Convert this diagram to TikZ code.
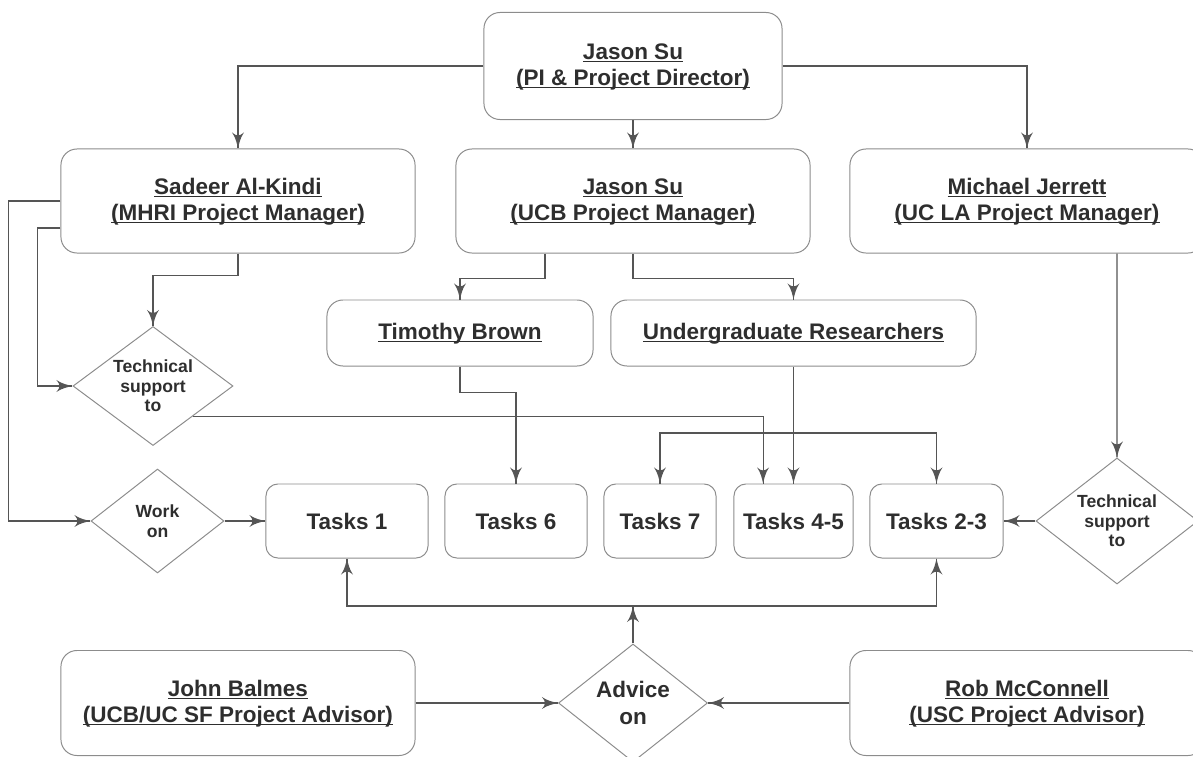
\documentclass[tikz,border=0pt]{standalone}
\usepackage{fontspec}
\usepackage{tikz}
\setmainfont{Liberation Sans}
\usetikzlibrary{arrows}
\usetikzlibrary{decorations.markings}
\usetikzlibrary{shapes.geometric}
\definecolor{boxline}{HTML}{8C8C8C}
\definecolor{connector}{HTML}{555555}
\definecolor{nametext}{HTML}{2E2E2E}
\newcommand{\uname}[1]{\underline{\raisebox{0pt}[\height][0pt]{#1}}}
\tikzset{->/.style = {decoration={markings,
                                  mark=at position 1 with {\arrow[scale=2.2]{latex'}}},
                      postaction={decorate}}}
\tikzset{person/.style = {draw = boxline, line width = 0.7pt, rounded corners = 0.4cm,
                          text = nametext, align = center,
                          font = \bfseries\fontsize{16}{18.5}\selectfont}}
\tikzset{task/.style = {person, rounded corners = 0.3cm, minimum height = 1.85cm}}
\tikzset{choice/.style = {diamond, aspect = 1.3, inner sep = 0pt, draw = boxline,
                          line width = 0.7pt, text = nametext, align = center,
                          font = \bfseries\fontsize{12.5}{14}\selectfont}}

\begin{document}
\begin{tikzpicture}[x = 0.025cm, y = -0.025cm, color = connector, line width = 0.8pt]
      \clip (0, 0) rectangle (1193, 757);

      \node [person, minimum width = 7.45cm, minimum height = 2.675cm] (pi) at (633, 66) {\uname{Jason Su}\\\uname{(PI \& Project Director)}};
      \node [person, minimum width = 8.85cm, minimum height = 2.6cm] (sadeer) at (238, 201) {\uname{Sadeer Al-Kindi}\\\uname{(MHRI Project Manager)}};
      \node [person, minimum width = 8.85cm, minimum height = 2.6cm] (ucb) at (633, 201) {\uname{Jason Su}\\\uname{(UCB Project Manager)}};
      \node [person, minimum width = 8.85cm, minimum height = 2.6cm] (jerrett) at (1027, 201) {\uname{Michael Jerrett}\\\uname{(UC LA Project Manager)}};

      \node [person, minimum width = 6.65cm, minimum height = 1.65cm] (tim) at (460, 333) {\uname{Timothy Brown}};
      \node [person, minimum width = 9.125cm, minimum height = 1.65cm] (undergrad) at (793.5, 333) {\uname{Undergraduate Researchers}};

      \node [choice, minimum width = 4cm, minimum height = 2.975cm] (techl) at (153, 386) {Technical\\support\\to};
      \node [choice, minimum width = 3.325cm, minimum height = 2.6cm] (workon) at (157.5, 521) {Work\\on};
      \node [choice, minimum width = 4.05cm, minimum height = 3.15cm] (techr) at (1117, 521) {Technical\\support\\to};

      \node [task, minimum width = 4.05cm] (t1) at (347, 521) {Tasks 1};
      \node [task, minimum width = 3.55cm] (t6) at (516, 521) {Tasks 6};
      \node [task, minimum width = 2.8cm] (t7) at (660, 521) {Tasks 7};
      \node [task, minimum width = 2.975cm] (t45) at (793.5, 521) {Tasks 4-5};
      \node [task, minimum width = 3.325cm] (t23) at (936.5, 521) {Tasks 2-3};

      \node [choice, minimum width = 3.725cm, minimum height = 2.95cm, font = \bfseries\fontsize{16}{19}\selectfont] (advice) at (633, 703) {Advice\\on};
      \node [person, minimum width = 8.85cm, minimum height = 2.625cm] (balmes) at (238, 703) {\uname{John Balmes}\\\uname{(UCB/UC SF Project Advisor)}};
      \node [person, minimum width = 8.85cm, minimum height = 2.625cm] (rob) at (1027, 703) {\uname{Rob McConnell}\\\uname{(USC Project Advisor)}};

      \coordinate (split) at (793.5, 433);
      \coordinate (join) at (633, 606);

      \draw [->] (pi) -| (sadeer);
      \draw [->] (pi) -- (ucb);
      \draw [->] (pi) -| (jerrett);

      \draw [->] (sadeer.west) -- ++(-52, 0) |- (workon);
      \draw [->] ([yshift=-0.675cm] sadeer.west) -- ++(-23, 0) |- (techl);
      \draw [->] (sadeer.south) -- ++(0, 22) -| (techl);
      \draw [->] (techl.-37) -| ([xshift=-0.76cm] t45.north);
      \draw [->] (workon) -- (t1);

      \draw [->] ([xshift=-2.2cm] ucb.south) -- ++(0, 25) -| (tim);
      \draw [->] (ucb.south) -- ++(0, 25) -| (undergrad);
      \draw [->] (tim.south) -- ++(0, 26) -| (t6);
      \draw [->] (undergrad) -- (t45);
      \draw [->] (split) -| (t7);
      \draw [->] (split) -| (t23);

      \draw [->] ([xshift=2.25cm] jerrett.south) -- (techr);
      \draw [->] (techr) -- (t23);

      \draw [->] (balmes) -- (advice);
      \draw [->] (rob) -- (advice);
      \draw [->] (advice) -- (join);
      \draw [->] (join) -| (t1);
      \draw [->] (join) -| (t23);
\end{tikzpicture}
\end{document}
